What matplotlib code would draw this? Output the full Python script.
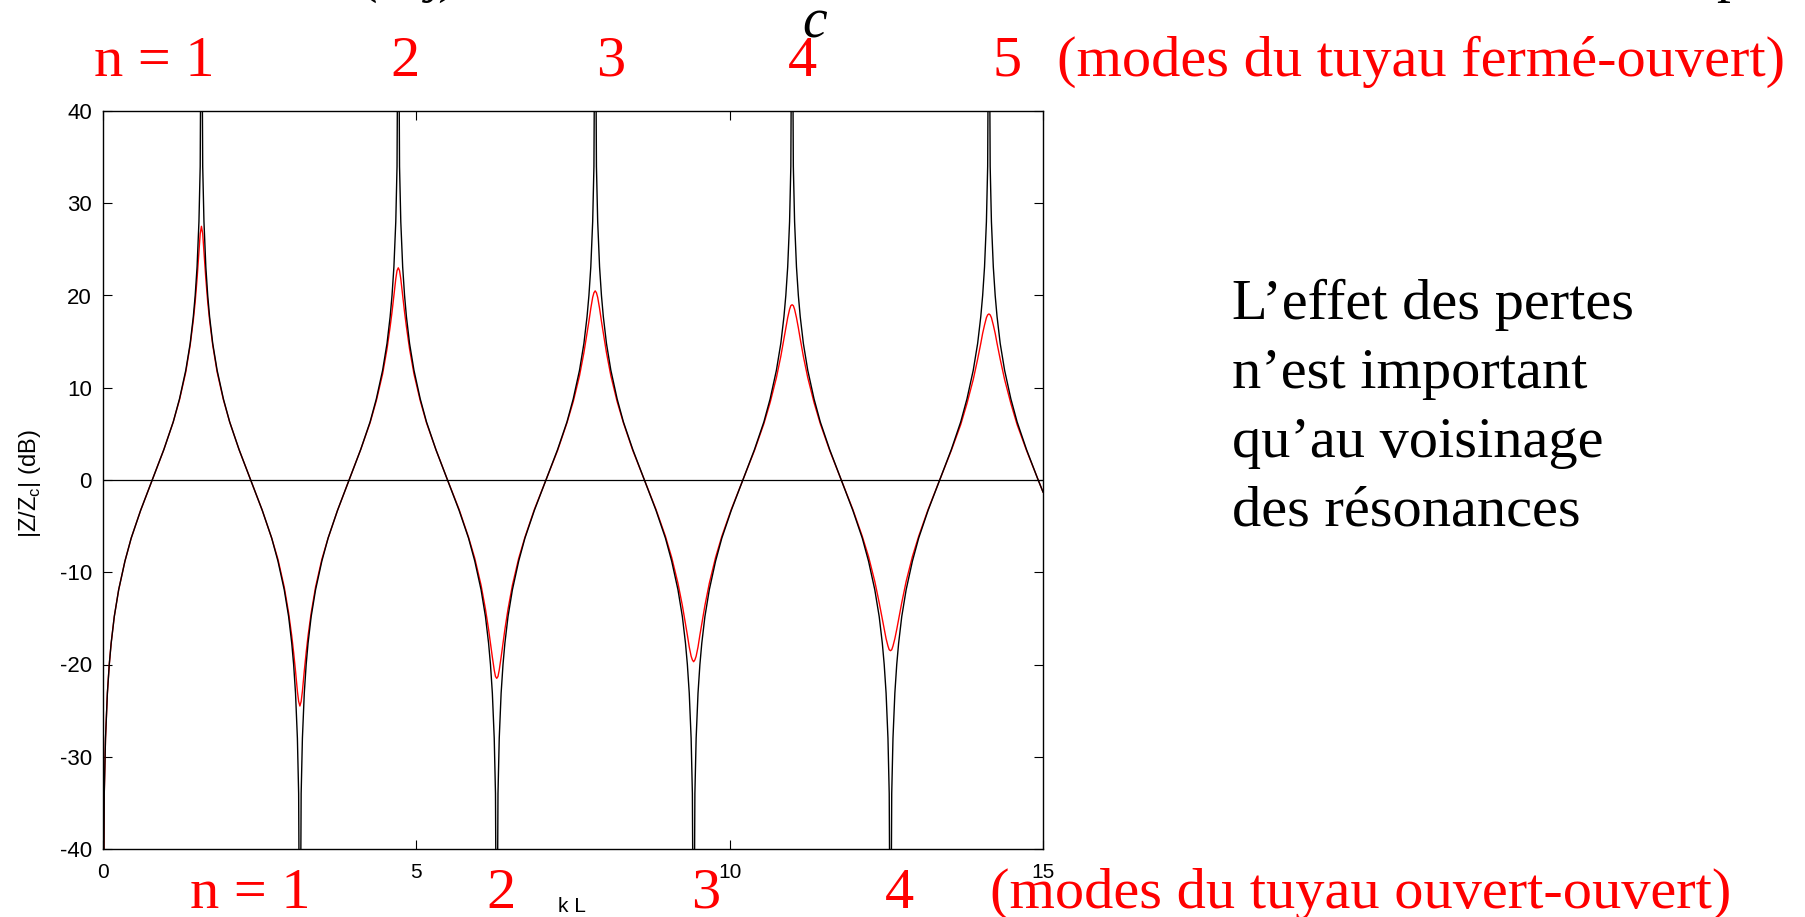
"""
plot.py
Input impedance of a closed-open pipe, |Z/Zc| in dB versus kL,
without losses (black) and with visco-thermal losses (red).
"""

import matplotlib
matplotlib.use("Agg")
import matplotlib.pyplot as plt

plt.rcParams["mathtext.fontset"] = "custom"
plt.rcParams["mathtext.rm"] = "Liberation Sans"
plt.rcParams["axes.unicode_minus"] = False

W, H = 1805, 917
SANS = "Liberation Sans"
SERIF = "Liberation Serif"
RED = "#ff0000"

# kL samples, one row per resonance / anti-resonance (zero crossing closes each row)
kl = [
    0.0, 0.02, 0.04, 0.07, 0.1, 0.13, 0.18, 0.25, 0.35, 0.45, 0.6, 0.785,
    0.971, 1.121, 1.221, 1.321, 1.391, 1.441, 1.471, 1.501, 1.531, 1.551, 1.571,
    1.591, 1.611, 1.641, 1.671, 1.701, 1.751, 1.821, 1.921, 2.021, 2.171, 2.356,
    2.542, 2.692, 2.792, 2.892, 2.962, 3.012, 3.042, 3.072, 3.102, 3.122, 3.142,
    3.162, 3.182, 3.212, 3.242, 3.272, 3.322, 3.392, 3.492, 3.592, 3.742, 3.927,
    4.112, 4.262, 4.362, 4.462, 4.532, 4.582, 4.612, 4.642, 4.672, 4.692, 4.712,
    4.732, 4.752, 4.782, 4.812, 4.842, 4.892, 4.962, 5.062, 5.162, 5.312, 5.498,
    5.683, 5.833, 5.933, 6.033, 6.103, 6.153, 6.183, 6.213, 6.243, 6.263, 6.283,
    6.303, 6.323, 6.353, 6.383, 6.413, 6.463, 6.533, 6.633, 6.733, 6.883, 7.069,
    7.254, 7.404, 7.504, 7.604, 7.674, 7.724, 7.754, 7.784, 7.814, 7.834, 7.854,
    7.874, 7.894, 7.924, 7.954, 7.984, 8.034, 8.104, 8.204, 8.304, 8.454, 8.639,
    8.825, 8.975, 9.075, 9.175, 9.245, 9.295, 9.325, 9.355, 9.385, 9.405, 9.425,
    9.445, 9.465, 9.495, 9.525, 9.555, 9.605, 9.675, 9.775, 9.875, 10.025, 10.21,
    10.396, 10.546, 10.646, 10.746, 10.816, 10.866, 10.896, 10.926, 10.956, 10.976, 10.996,
    11.016, 11.036, 11.066, 11.096, 11.126, 11.176, 11.246, 11.346, 11.446, 11.596, 11.781,
    11.966, 12.116, 12.216, 12.316, 12.386, 12.436, 12.466, 12.496, 12.526, 12.546, 12.566,
    12.586, 12.606, 12.636, 12.666, 12.696, 12.746, 12.816, 12.916, 13.016, 13.166, 13.352,
    13.537, 13.687, 13.787, 13.887, 13.957, 14.007, 14.037, 14.067, 14.097, 14.117, 14.137,
    14.157, 14.177, 14.207, 14.237, 14.267, 14.317, 14.387, 14.487, 14.587, 14.737, 14.923,
    15.0,
]

# lossless pipe (the +/-60 samples run off the plotted range)
lossless_db = [
    -60, -34.0, -28.0, -23.1, -20.0, -17.7, -14.8, -11.9, -8.8, -6.3, -3.3, 0.0,
    3.3, 6.3, 8.8, 11.9, 14.8, 17.7, 20.0, 23.1, 28.0, 34.0, 60,
    34.0, 28.0, 23.1, 20.0, 17.7, 14.8, 11.9, 8.8, 6.3, 3.3, 0.0,
    -3.3, -6.3, -8.8, -11.9, -14.8, -17.7, -20.0, -23.1, -28.0, -34.0, -60,
    -34.0, -28.0, -23.1, -20.0, -17.7, -14.8, -11.9, -8.8, -6.3, -3.3, 0.0,
    3.3, 6.3, 8.8, 11.9, 14.8, 17.7, 20.0, 23.1, 28.0, 34.0, 60,
    34.0, 28.0, 23.1, 20.0, 17.7, 14.8, 11.9, 8.8, 6.3, 3.3, 0.0,
    -3.3, -6.3, -8.8, -11.9, -14.8, -17.7, -20.0, -23.1, -28.0, -34.0, -60,
    -34.0, -28.0, -23.1, -20.0, -17.7, -14.8, -11.9, -8.8, -6.3, -3.3, 0.0,
    3.3, 6.3, 8.8, 11.9, 14.8, 17.7, 20.0, 23.1, 28.0, 34.0, 60,
    34.0, 28.0, 23.1, 20.0, 17.7, 14.8, 11.9, 8.8, 6.3, 3.3, 0.0,
    -3.3, -6.3, -8.8, -11.9, -14.8, -17.7, -20.0, -23.1, -28.0, -34.0, -60,
    -34.0, -28.0, -23.1, -20.0, -17.7, -14.8, -11.9, -8.8, -6.3, -3.3, 0.0,
    3.3, 6.3, 8.8, 11.9, 14.8, 17.7, 20.0, 23.1, 28.0, 34.0, 60,
    34.0, 28.0, 23.1, 20.0, 17.7, 14.8, 11.9, 8.8, 6.3, 3.3, 0.0,
    -3.3, -6.3, -8.8, -11.9, -14.8, -17.7, -20.0, -23.1, -28.0, -34.0, -60,
    -34.0, -28.0, -23.1, -20.0, -17.7, -14.8, -11.9, -8.8, -6.3, -3.3, 0.0,
    3.3, 6.3, 8.8, 11.9, 14.8, 17.7, 20.0, 23.1, 28.0, 34.0, 60,
    34.0, 28.0, 23.1, 20.0, 17.7, 14.8, 11.9, 8.8, 6.3, 3.3, 0.0,
    -1.3,
]

# pipe with losses: finite peaks and dips
lossy_db = [
    -60, -34.0, -28.0, -23.1, -20.0, -17.7, -14.8, -11.9, -8.8, -6.3, -3.3, 0.0,
    3.3, 6.3, 8.7, 11.7, 14.6, 17.3, 19.3, 21.8, 24.7, 26.7, 27.5,
    26.7, 24.7, 21.8, 19.3, 17.3, 14.6, 11.7, 8.7, 6.3, 3.3, 0.0,
    -3.3, -6.3, -8.6, -11.6, -14.4, -16.9, -18.7, -20.7, -22.9, -24.0, -24.5,
    -24.0, -22.9, -20.7, -18.7, -16.9, -14.4, -11.6, -8.6, -6.3, -3.3, 0.0,
    3.3, 6.2, 8.6, 11.5, 14.2, 16.6, 18.2, 20.0, 21.8, 22.7, 23.0,
    22.7, 21.8, 20.0, 18.2, 16.6, 14.2, 11.5, 8.6, 6.2, 3.3, 0.0,
    -3.2, -6.2, -8.5, -11.4, -14.0, -16.2, -17.7, -19.2, -20.6, -21.3, -21.5,
    -21.3, -20.6, -19.2, -17.7, -16.2, -14.0, -11.4, -8.5, -6.2, -3.2, 0.0,
    3.2, 6.2, 8.5, 11.3, 13.8, 15.9, 17.2, 18.6, 19.8, 20.3, 20.5,
    20.3, 19.8, 18.6, 17.2, 15.9, 13.8, 11.3, 8.5, 6.2, 3.2, 0.0,
    -3.2, -6.1, -8.4, -11.2, -13.6, -15.6, -16.8, -18.1, -19.1, -19.5, -19.7,
    -19.5, -19.1, -18.1, -16.8, -15.6, -13.6, -11.2, -8.4, -6.1, -3.2, 0.0,
    3.2, 6.1, 8.4, 11.1, 13.4, 15.3, 16.5, 17.6, 18.5, 18.9, 19.0,
    18.9, 18.5, 17.6, 16.5, 15.3, 13.4, 11.1, 8.4, 6.1, 3.2, 0.0,
    -3.2, -6.1, -8.3, -11.0, -13.3, -15.1, -16.2, -17.2, -18.0, -18.4, -18.5,
    -18.4, -18.0, -17.2, -16.2, -15.1, -13.3, -11.0, -8.3, -6.1, -3.2, 0.0,
    3.2, 6.0, 8.3, 10.9, 13.1, 14.8, 15.9, 16.8, 17.6, 17.9, 18.0,
    17.9, 17.6, 16.8, 15.9, 14.8, 13.1, 10.9, 8.3, 6.0, 3.2, 0.0,
    -1.3,
]

# mode labels: (text, x in px, alignment)
closed_open_modes = [("n = 1", 94, "left"), ("2", 405, "center"), ("3", 611, "center"),
                     ("4", 802, "center"), ("5", 1007, "center"),
                     ("(modes du tuyau fermé-ouvert)", 1057, "left")]
open_open_modes = [("n = 1", 190, "left"), ("2", 501, "center"), ("3", 706, "center"),
                   ("4", 899, "center"), ("(modes du tuyau ouvert-ouvert)", 990, "left")]
note_lines = ["L’effet des pertes", "n’est important", "qu’au voisinage", "des résonances"]


def fx(px):
    return px / W


def fy(py):
    return 1 - py / H


fig = plt.figure(figsize=(W / 100, H / 100), dpi=100)
ax = fig.add_axes([fx(103), fy(849), (1043 - 103) / W, (849 - 111) / H])

ax.plot(kl, lossy_db, color=RED, linewidth=1.0)
ax.plot(kl, lossless_db, color="black", linewidth=1.0)
ax.axhline(0, color="black", linewidth=0.9)

ax.set_xlim(0, 15)
ax.set_ylim(-40, 40)
ax.set_xticks([0, 5, 10, 15])
ax.set_yticks(range(-40, 41, 10))
ax.tick_params(direction="in", length=6.5, width=0.8, top=True, right=True, colors="black")
ax.tick_params(axis="x", pad=10, labelsize=15)
ax.tick_params(axis="y", pad=8, labelsize=16)
for lab in ax.get_xticklabels() + ax.get_yticklabels():
    lab.set_family(SANS)
for sp in ax.spines.values():
    sp.set_linewidth(1.0)

fig.text(fx(572), fy(897), "k L", ha="center", va="top", fontsize=15, family=SANS)
fig.text(fx(30), fy(484), r"|Z/Z$_\mathrm{c}$| (dB)", rotation=90, ha="center",
         va="center", fontsize=17, family=SANS)

for s, x, ha in closed_open_modes:
    fig.text(fx(x), fy(76), s, ha=ha, va="baseline", fontsize=42, family=SERIF, color=RED)
for s, x, ha in open_open_modes:
    fig.text(fx(x), fy(908), s, ha=ha, va="baseline", fontsize=42, family=SERIF, color=RED)

for i, line in enumerate(note_lines):
    fig.text(fx(1232), fy(319 + 69 * i), line, ha="left", va="baseline",
             fontsize=42, family=SERIF)

# tail of the formula line above the figure
fig.text(fx(815), fy(37), "c", ha="center", va="baseline", fontsize=40,
         family=SERIF, style="italic")
fig.text(fx(368), fy(-9), "(", ha="center", va="baseline", fontsize=40, family=SERIF)
fig.text(fx(445), fy(-9), "j)", ha="center", va="baseline", fontsize=40,
         family=SERIF, style="italic")
fig.text(fx(1730), fy(-9), "p", ha="center", va="baseline", fontsize=40, family=SERIF)

fig.savefig("out.png", dpi=100)
